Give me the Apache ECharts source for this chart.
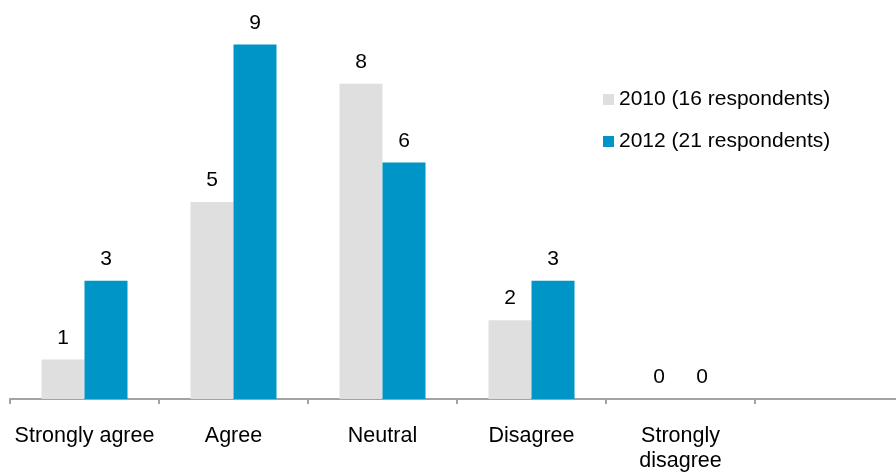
<!DOCTYPE html>
<html><head><meta charset="utf-8">
<script src="https://cdn.jsdelivr.net/npm/echarts@6/dist/echarts.min.js"></script>
<style>html,body{margin:0;padding:0;background:#fff}#c{width:896px;height:473px}</style>
</head><body><div id="c"></div>
<script>
const categories = ['Strongly agree', 'Agree', 'Neutral', 'Disagree', 'Strongly\ndisagree', ''];
const series2010 = [1, 5, 8, 2, 0, null];
const series2012 = [3, 9, 6, 3, 0, null];
const seriesNames = ['2010 (16 respondents)', '2012 (21 respondents)'];
const colors = ['#DFDFDF', '#0095C7'];
const font = 'Liberation Sans, Arial, sans-serif';
const chart = echarts.init(document.getElementById('c'), null, {renderer: 'canvas'});
const lbl = {show: true, position: 'top', distance: 11, color: '#000', fontSize: 21, fontFamily: font};
chart.setOption({
  animation: false,
  color: colors,
  grid: {left: 10, width: 894, top: 5, bottom: 74, containLabel: false, outerBoundsMode: 'none'},
  legend: {
    orient: 'vertical', left: 598, top: 84, itemWidth: 11, itemHeight: 11, itemGap: 21, itemTextGap: 6,
    icon: 'rect', textStyle: {fontSize: 21, color: '#000', fontFamily: font},
    data: seriesNames
  },
  xAxis: {
    type: 'category', data: categories, boundaryGap: true,
    axisLine: {lineStyle: {color: '#A3A3A3', width: 2}},
    axisTick: {show: true, length: 5, lineStyle: {color: '#A3A3A3', width: 2}},
    axisLabel: {color: '#000', fontSize: 21.5, fontFamily: font, margin: 25, lineHeight: 25, interval: 0}
  },
  yAxis: {type: 'value', min: 0, max: 10, show: false, splitLine: {show: false}},
  series: [
    {name: seriesNames[0], type: 'bar', data: series2010, barWidth: 43, barGap: '0%', label: lbl},
    {name: seriesNames[1], type: 'bar', data: series2012, barWidth: 43, barGap: '0%', label: lbl}
  ]
});
</script></body></html>
